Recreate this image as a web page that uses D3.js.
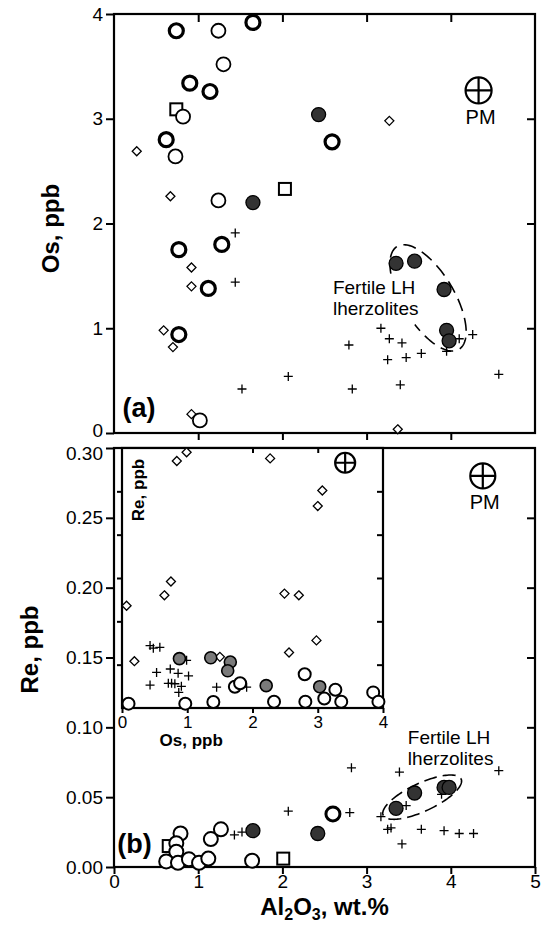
<!DOCTYPE html>
<html><head><meta charset="utf-8">
<script src="https://cdn.jsdelivr.net/npm/d3@7"></script>
<style>
html,body{margin:0;padding:0;background:#fff;}
svg{display:block;font-family:"Liberation Sans",Arial,Helvetica,sans-serif;}
</style></head>
<body>
<svg id="chart" width="545" height="925"></svg>
<script>
// ---------- Panel (a): Al2O3 (wt.%) vs Os (ppb) ----------
const aThickAl = [0.74,1.65,0.90,1.14,0.62,2.59,0.77,1.28,1.12,0.77];
const aThickOs = [3.84,3.92,3.34,3.26,2.80,2.78,1.75,1.80,1.38,0.94];
const aOpenAl = [1.24,1.30,0.82,0.73,1.24,1.02];
const aOpenOs = [3.84,3.52,3.02,2.64,2.22,0.12];
const aFilledAl = [2.43,1.65,3.35,3.57,3.92,3.95,3.98];
const aFilledOs = [3.04,2.20,1.62,1.64,1.37,0.98,0.88];
const aSquareAl = [0.74,2.03];
const aSquareOs = [3.09,2.33];
const aDiamondAl = [0.27,0.67,3.27,0.92,0.92,0.59,0.70,0.92,3.37];
const aDiamondOs = [2.69,2.26,2.98,1.58,1.40,0.98,0.82,0.18,0.035];
const aPlusAl = [1.44,1.44,1.52,2.07,2.79,2.83,3.17,3.27,3.42,3.25,3.47,3.65,3.40,3.95,4.10,4.26,4.57];
const aPlusOs = [1.91,1.44,0.42,0.54,0.84,0.42,1.00,0.90,0.86,0.70,0.72,0.76,0.46,0.78,0.90,0.94,0.56];
const aPM = {al: 4.33, os: 3.27};

// ---------- Panel (b): Al2O3 (wt.%) vs Re (ppb) ----------
const bOpenAl = [0.79,0.74,0.74,0.62,0.76,0.89,1.01,1.12,1.15,1.27,1.64];
const bOpenRe = [0.024,0.017,0.011,0.004,0.003,0.0055,0.003,0.006,0.020,0.027,0.0045];
const bThickAl = [2.60];
const bThickRe = [0.038];
const bFilledAl = [1.65,2.42,3.35,3.57,3.92,3.98];
const bFilledRe = [0.026,0.024,0.042,0.053,0.057,0.057];
const bSquareAl = [0.65,2.01];
const bSquareRe = [0.015,0.006];
const bPlusAl = [1.43,1.52,2.07,2.80,2.82,3.39,3.17,3.25,3.29,3.47,3.65,3.89,3.92,4.10,4.27,3.42,4.57];
const bPlusRe = [0.023,0.025,0.040,0.039,0.071,0.068,0.036,0.027,0.028,0.044,0.027,0.052,0.026,0.024,0.024,0.0165,0.069];
const bPM = {al: 4.38, re: 0.280};

// ---------- Inset: Os (ppb) vs Re (ppb) ----------
const iOpenOs = [0.10,0.97,1.40,1.73,1.81,2.33,2.80,2.81,3.10,3.27,3.36,3.85,3.93];
const iOpenRe = [0.005,0.005,0.007,0.0246,0.0285,0.0073,0.039,0.0073,0.011,0.021,0.0073,0.018,0.0073];
const iGreyOs = [0.88,1.36,1.66,1.62,2.21,3.03];
const iGreyRe = [0.057,0.058,0.053,0.043,0.0258,0.0246];
const iDiamondOs = [0.19,1.50,2.56,2.98,0.84,0.99,2.27,3.00,3.07,0.07,0.65,0.75,2.49,2.71];
const iDiamondRe = [0.054,0.059,0.064,0.078,0.285,0.295,0.288,0.233,0.251,0.118,0.130,0.146,0.132,0.130];
const iPlusOs = [0.43,0.48,0.58,0.53,0.74,0.86,1.02,0.43,0.71,0.76,0.81,0.91,0.87,0.99,1.45,1.91];
const iPlusRe = [0.072,0.069,0.070,0.041,0.045,0.040,0.037,0.0265,0.0285,0.0285,0.028,0.025,0.018,0.055,0.024,0.024];
const iPM = {os: 3.42, re: 0.283};

// tick values
const aXTicks = [1,2,3,4];
const aYTicks = [0,1,2,3,4];
const bXTicks = [0,1,2,3,4,5];
const bYTicks = [0,0.05,0.10,0.15,0.20,0.25,0.30];
const iXTicks = [0,1,2,3,4];
const iYTicks = [0.05,0.10,0.15,0.20,0.25];

// ---------- scales ----------
const xA = d3.scaleLinear([0,5],[114,535]);
const yA = d3.scaleLinear([0,4],[433,14]);
const xB = d3.scaleLinear([0,5],[114,535]);
const yB = d3.scaleLinear([0,0.30],[867,448]);
const xI = d3.scaleLinear([0,4],[122,383]);
const yI = d3.scaleLinear([0,0.30],[708,448]);

const svg = d3.select("#chart");
const FONT = '"Liberation Sans",Arial,Helvetica,sans-serif';

function styleAxis(g, fs){
  g.select(".domain").remove();
  g.selectAll(".tick line").attr("stroke","#000").attr("stroke-width",2);
  g.selectAll(".tick text").attr("fill","#000").attr("font-size",fs).attr("font-family",FONT);
  return g;
}

// symbol drawing
function pts(g, xs, ys, sx, sy, type, opt={}){
  const data = xs.map((v,i)=>[v, ys[i]]);
  const r = opt.r || 7;
  if(type==="circle"){
    g.selectAll(null).data(data).join("circle")
      .attr("cx",d=>sx(d[0])).attr("cy",d=>sy(d[1])).attr("r",r)
      .attr("fill",opt.fill||"#fff").attr("stroke","#000").attr("stroke-width",opt.sw||1.8);
  } else if(type==="square"){
    const s = opt.s || 12;
    g.selectAll(null).data(data).join("rect")
      .attr("x",d=>sx(d[0])-s/2).attr("y",d=>sy(d[1])-s/2).attr("width",s).attr("height",s)
      .attr("fill","#fff").attr("stroke","#000").attr("stroke-width",2);
  } else if(type==="diamond"){
    const h = opt.h || 4.5;
    g.selectAll(null).data(data).join("path")
      .attr("d",d=>`M${sx(d[0])},${sy(d[1])-h}L${sx(d[0])+h},${sy(d[1])}L${sx(d[0])},${sy(d[1])+h}L${sx(d[0])-h},${sy(d[1])}Z`)
      .attr("fill","#fff").attr("stroke","#000").attr("stroke-width",1.3);
  } else if(type==="plus"){
    const h = opt.h || 4.5;
    g.selectAll(null).data(data).join("path")
      .attr("d",d=>`M${sx(d[0])-h},${sy(d[1])}H${sx(d[0])+h}M${sx(d[0])},${sy(d[1])-h}V${sy(d[1])+h}`)
      .attr("fill","none").attr("stroke","#000").attr("stroke-width",1.3);
  }
}
function pm(g, cx, cy, r){
  g.append("circle").attr("cx",cx).attr("cy",cy).attr("r",r).attr("fill","#fff").attr("stroke","#000").attr("stroke-width",2.2);
  g.append("path").attr("d",`M${cx-r},${cy}H${cx+r}M${cx},${cy-r}V${cy+r}`).attr("stroke","#000").attr("stroke-width",2.2);
}
function dashedEllipse(g, cx, cy, a, b, thetaDeg, t0, t1, dash){
  const th = thetaDeg*Math.PI/180, n = 120, P = [];
  for(let k=0;k<=n;k++){
    const t = t0 + (t1-t0)*k/n;
    P.push([cx + a*Math.cos(t)*Math.cos(th) - b*Math.sin(t)*Math.sin(th),
            cy + a*Math.cos(t)*Math.sin(th) + b*Math.sin(t)*Math.cos(th)]);
  }
  g.append("path").attr("d", d3.line()(P)).attr("fill","none").attr("stroke","#000")
    .attr("stroke-width",1.6).attr("stroke-dasharray",dash);
}

// ================= Panel (a) =================
const gA = svg.append("g");
gA.append("rect").attr("x",xA(0)).attr("y",yA(4)).attr("width",xA(5)-xA(0)).attr("height",yA(0)-yA(4))
  .attr("fill","#fff").attr("stroke","#000").attr("stroke-width",2.2);
const axA = styleAxis(gA.append("g").attr("transform",`translate(${xA(0)},0)`)
  .call(d3.axisLeft(yA).tickValues(aYTicks).tickSize(8).tickPadding(3).tickFormat(d3.format("d"))), 19);
axA.selectAll(".tick text").filter(d=>d===0).attr("dy","0.2em");
styleAxis(gA.append("g").attr("transform",`translate(${xA(5)},0)`)
  .call(d3.axisLeft(yA).tickValues([1,2,3]).tickSize(8).tickFormat("")), 19);
styleAxis(gA.append("g").attr("transform",`translate(0,${yA(4)})`)
  .call(d3.axisBottom(xA).tickValues(aXTicks).tickSize(8).tickFormat("")), 19);
styleAxis(gA.append("g").attr("transform",`translate(0,${yA(0)})`)
  .call(d3.axisBottom(xA).tickValues(aXTicks).tickSize(7).tickFormat("")), 19);

// ellipse (a) around fertile lherzolites
dashedEllipse(gA, xA(3.73), yA(1.29), 60, 26, 59, -3.6, 1.3, "13,7");
dashedEllipse(gA, xA(3.73), yA(1.29), 60, 26, 59, 2.3, 2.75, "13,7");

pts(gA, aSquareAl, aSquareOs, xA, yA, "square");
pts(gA, aDiamondAl, aDiamondOs, xA, yA, "diamond");
pts(gA, aPlusAl, aPlusOs, xA, yA, "plus");
pts(gA, aOpenAl, aOpenOs, xA, yA, "circle", {sw:1.8});
pts(gA, aThickAl, aThickOs, xA, yA, "circle", {sw:3.2});
pts(gA, aFilledAl, aFilledOs, xA, yA, "circle", {fill:"#333", sw:1.3});
pm(gA, xA(aPM.al), yA(aPM.os), 13);
gA.append("text").attr("x",xA(aPM.al)+2).attr("y",yA(aPM.os)+34).attr("text-anchor","middle")
  .attr("font-size",20).text("PM");
gA.append("text").attr("x",xA(2.60)).attr("y",yA(1.33)).attr("font-size",19).text("Fertile LH");
gA.append("text").attr("x",xA(2.60)).attr("y",yA(1.13)).attr("font-size",19).text("lherzolites");
gA.append("text").attr("x",xA(0.10)).attr("y",yA(0)-16).attr("font-size",27).attr("font-weight","bold").text("(a)");
gA.append("text").attr("transform",`translate(50,${(yA(0)+yA(4))/2+5}) rotate(-90)`)
  .attr("text-anchor","middle").attr("dominant-baseline","central")
  .attr("font-size",24).attr("font-weight","bold").text("Os, ppb");

// ================= Panel (b) =================
const gB = svg.append("g");
gB.append("rect").attr("x",xB(0)).attr("y",yB(0.30)).attr("width",xB(5)-xB(0)).attr("height",yB(0)-yB(0.30))
  .attr("fill","#fff").attr("stroke","#000").attr("stroke-width",2.2);
const axB = styleAxis(gB.append("g").attr("transform",`translate(${xB(0)},0)`)
  .call(d3.axisLeft(yB).tickValues(bYTicks).tickSize(8).tickPadding(3).tickFormat(d3.format(".2f"))), 19);
axB.selectAll(".tick text").filter(d=>d===0.30).attr("dy","0.62em");
styleAxis(gB.append("g").attr("transform",`translate(${xB(5)},0)`)
  .call(d3.axisLeft(yB).tickValues([0.05,0.10,0.15,0.20,0.25]).tickSize(8).tickFormat("")), 19);
styleAxis(gB.append("g").attr("transform",`translate(0,${yB(0)})`)
  .call(d3.axisBottom(xB).tickValues(bXTicks).tickSize(7).tickPadding(1).tickFormat(d3.format("d"))), 19);

dashedEllipse(gB, xB(3.66), yB(0.050), 43, 14, -25, 0, 2*Math.PI, "13,6");

pts(gB, bSquareAl, bSquareRe, xB, yB, "square");
pts(gB, bPlusAl, bPlusRe, xB, yB, "plus");
pts(gB, bOpenAl, bOpenRe, xB, yB, "circle", {sw:2});
pts(gB, bThickAl, bThickRe, xB, yB, "circle", {sw:3});
pts(gB, bFilledAl, bFilledRe, xB, yB, "circle", {fill:"#333", sw:1.3});
pm(gB, xB(bPM.al), yB(bPM.re), 12.5);
gB.append("text").attr("x",xB(bPM.al)+2).attr("y",yB(bPM.re)+33).attr("text-anchor","middle")
  .attr("font-size",20).text("PM");
gB.append("text").attr("x",xB(3.49)).attr("y",yB(0.088)).attr("font-size",19).text("Fertile LH");
gB.append("text").attr("x",xB(3.49)).attr("y",yB(0.073)).attr("font-size",19).text("lherzolites");
gB.append("text").attr("x",xB(0.04)).attr("y",yB(0)-14).attr("font-size",27).attr("font-weight","bold").text("(b)");
gB.append("text").attr("transform",`translate(29,${(yB(0)+yB(0.3))/2-8}) rotate(-90)`)
  .attr("text-anchor","middle").attr("dominant-baseline","central")
  .attr("font-size",24).attr("font-weight","bold").text("Re, ppb");
const xt = gB.append("text").attr("x",(xB(0)+xB(5))/2).attr("y",915).attr("text-anchor","middle")
  .attr("font-size",24).attr("font-weight","bold");
xt.append("tspan").text("Al");
xt.append("tspan").attr("font-size",16).attr("dy",5).text("2");
xt.append("tspan").attr("dy",-5).text("O");
xt.append("tspan").attr("font-size",16).attr("dy",5).text("3");
xt.append("tspan").attr("dy",-5).text(", wt.%");

// ================= Inset =================
const gI = svg.append("g");
gI.append("rect").attr("x",xI(0)).attr("y",yI(0.30)).attr("width",xI(4)-xI(0)).attr("height",yI(0)-yI(0.30))
  .attr("fill","#fff").attr("stroke","#000").attr("stroke-width",2.2);
styleAxis(gI.append("g").attr("transform",`translate(0,${yI(0)})`)
  .call(d3.axisBottom(xI).tickValues(iXTicks).tickSize(5).tickPadding(3).tickFormat(d3.format("d"))), 17);
styleAxis(gI.append("g").attr("transform",`translate(0,${yI(0.30)})`)
  .call(d3.axisBottom(xI).tickValues([1,2,3]).tickSize(5).tickFormat("")), 17);
styleAxis(gI.append("g").attr("transform",`translate(${xI(0)},0)`)
  .call(d3.axisLeft(yI).tickValues(iYTicks).tickSize(5).tickFormat("")), 17);
styleAxis(gI.append("g").attr("transform",`translate(${xI(4)},0)`)
  .call(d3.axisLeft(yI).tickValues(iYTicks).tickSize(6).tickFormat("")), 17);

pts(gI, iDiamondOs, iDiamondRe, xI, yI, "diamond");
pts(gI, iPlusOs, iPlusRe, xI, yI, "plus");
pts(gI, iOpenOs, iOpenRe, xI, yI, "circle", {r:6, sw:2});
pts(gI, iGreyOs, iGreyRe, xI, yI, "circle", {r:6, fill:"#7a7a7a", sw:1.6});
pm(gI, xI(iPM.os), yI(iPM.re), 10);
gI.append("text").attr("x",xI(1.06)).attr("y",746).attr("text-anchor","middle")
  .attr("font-size",17).attr("font-weight","bold").text("Os, ppb");
gI.append("text").attr("transform",`translate(138,490) rotate(-90)`)
  .attr("text-anchor","middle").attr("dominant-baseline","central")
  .attr("font-size",17).attr("font-weight","bold").text("Re, ppb");
</script>
</body></html>
